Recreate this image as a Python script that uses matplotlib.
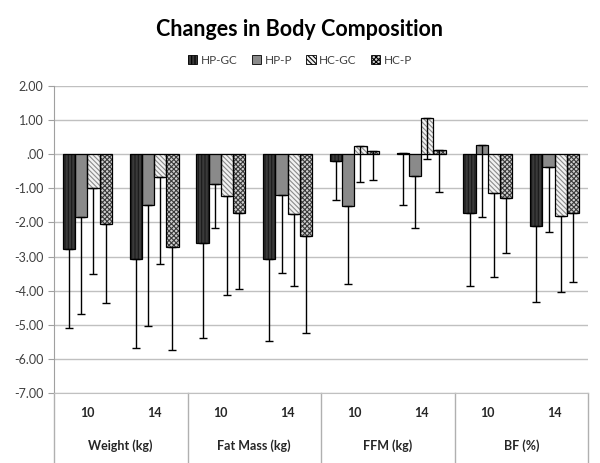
import numpy as np
import matplotlib.pyplot as plt
from matplotlib.patches import Patch
import matplotlib.transforms as mtransforms

plt.rcParams["font.family"] = ["Lato", "DejaVu Sans"]
plt.rcParams["hatch.linewidth"] = 0.8

groups = ["Weight (kg)", "Fat Mass (kg)", "FFM (kg)", "BF (%)"]
weeks = ["10", "14"]
series = ["HP-GC", "HP-P", "HC-GC", "HC-P"]

# mean change per subgroup (10, 14 for each group)
hp_gc = [-2.78, -3.06, -2.59, -3.06, -0.21, 0.03, -1.72, -2.11]
hp_p = [-1.84, -1.48, -0.87, -1.19, -1.52, -0.63, 0.27, -0.37]
hc_gc = [-1.00, -0.66, -1.21, -1.75, 0.24, 1.07, -1.14, -1.82]
hc_p = [-2.04, -2.72, -1.71, -2.41, 0.09, 0.11, -1.27, -1.72]

# SD (drawn only downward)
hp_gc_sd = [2.30, 2.63, 2.81, 2.41, 1.13, 1.51, 2.14, 2.23]
hp_p_sd = [2.85, 3.55, 1.29, 2.28, 2.27, 1.52, 2.10, 1.91]
hc_gc_sd = [2.50, 2.56, 2.92, 2.10, 1.04, 1.22, 2.46, 2.21]
hc_p_sd = [2.33, 3.02, 2.25, 2.84, 0.85, 1.21, 1.64, 2.02]

values = [hp_gc, hp_p, hc_gc, hc_p]
sds = [hp_gc_sd, hp_p_sd, hc_gc_sd, hc_p_sd]
styles = [
    dict(fc="#3a3a3a", hc="#1a1a1a", hatch="|||||"),
    dict(fc="#8a8a8a", hc="#7a7a7a", hatch=""),
    dict(fc="#f2f2f2", hc="#8a8a8a", hatch="\\\\\\\\\\\\\\"),
    dict(fc="#d0d0d0", hc="#3a3a3a", hatch="xxxxxxx"),
]

fig = plt.figure(figsize=(6, 4.63), dpi=100)
ax = fig.add_axes([0.09, 0.1512, 0.89, 0.663])

x = np.arange(len(hp_gc))
w = 0.183
for i, (vals, sd, st) in enumerate(zip(values, sds, styles)):
    xs = x + (i - 1.5) * w
    ax.bar(xs, vals, w, color=st["fc"], hatch=st["hatch"], edgecolor=st["hc"], linewidth=0, zorder=3)
    ax.bar(xs, vals, w, fill=False, edgecolor="black", linewidth=0.9, zorder=4)
    ax.errorbar(xs, vals, yerr=[sd, np.zeros(len(sd))], fmt="none", ecolor="black",
                elinewidth=1.0, capsize=3, capthick=1.0, zorder=5)

ax.set_xlim(-0.5, len(x) - 0.5)
ax.set_ylim(-7, 2)
yt = np.arange(-7, 3)
ax.set_yticks(yt)
ax.set_yticklabels([".00" if v == 0 else f"{v:.2f}" for v in yt], fontsize=9, color="#404040")
ax.tick_params(axis="y", length=4, color="#a0a0a0")
ax.set_xticks([])
ax.yaxis.grid(True, color="#c0c0c0", linewidth=1, zorder=0)
ax.set_axisbelow(True)
for s in ["top", "right"]:
    ax.spines[s].set_visible(False)
ax.spines["left"].set_color("#a0a0a0")
ax.spines["bottom"].set_color("#c0c0c0")

trans = mtransforms.blended_transform_factory(ax.transData, ax.transAxes)
for i in range(len(x)):
    ax.text(x[i], -0.065, weeks[i % 2], transform=trans, ha="center", va="center",
            fontsize=9, fontweight="bold", color="#262626")
for g, name in enumerate(groups):
    ax.text(2 * g + 0.5, -0.17, name, transform=trans, ha="center", va="center",
            fontsize=9, fontweight="bold", color="#262626")
for b in np.arange(-0.5, len(x), 2):
    ax.plot([b, b], [0, -0.227], transform=trans, color="#b0b0b0", linewidth=1, clip_on=False)

fig.text(0.5, 0.937, "Changes in Body Composition", ha="center", va="center",
         fontsize=15.5, fontweight="bold", color="black")

handles = [Patch(facecolor=st["fc"], edgecolor="black", hatch=st["hatch"], linewidth=0.6) for st in styles]
fig.legend(handles, series, loc="center", bbox_to_anchor=(0.5, 0.87), ncol=4, frameon=False,
           fontsize=8.5, handlelength=0.8, handleheight=0.8, handletextpad=0.3, columnspacing=1.2,
           labelcolor="#404040")

fig.savefig("out.png", dpi=100)
